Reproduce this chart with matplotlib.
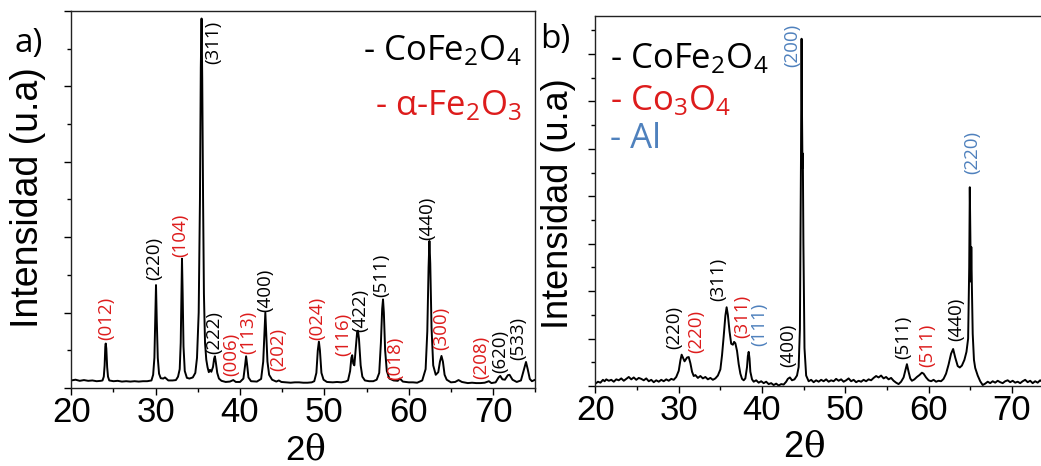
import matplotlib
matplotlib.use("Agg")
import matplotlib.pyplot as plt
from matplotlib.ticker import MultipleLocator, NullFormatter

plt.rcParams['font.family'] = ['Open Sans', 'DejaVu Sans']
plt.rcParams['mathtext.fontset'] = 'custom'
plt.rcParams['mathtext.rm'] = 'Open Sans'
plt.rcParams['mathtext.it'] = 'DejaVu Serif'

RED = '#dd1c1c'
BLUE = '#4f81bd'
PHASE_COLORS = ['black', RED, BLUE]

# ---- panel a : CoFe2O4 + alpha-Fe2O3 (2theta, intensity a.u.) ----
profile_a = [
    (20.0, 2.0), (20.5, 2.2), (21.0, 1.9), (21.5, 2.1), (22.0, 1.9), (22.5, 2.0),
    (23.0, 1.8), (23.5, 1.9), (23.7, 2.0), (23.85, 3.0), (23.95, 6.0), (24.03, 11.0),
    (24.08, 11.8), (24.15, 10.5), (24.25, 5.5), (24.35, 3.0), (24.5, 2.0), (25.0, 1.8),
    (25.5, 1.9), (26.0, 1.7), (26.5, 1.8), (27.0, 1.7), (27.5, 1.8), (28.0, 1.7),
    (28.5, 1.8), (29.0, 1.8), (29.5, 2.0), (29.7, 3.5), (29.85, 8.0), (29.95, 18.0),
    (30.04, 27.3), (30.13, 18.0), (30.25, 8.0), (30.4, 3.8), (30.6, 2.6), (30.9, 2.5),
    (31.1, 2.8), (31.5, 2.0), (32.0, 2.0), (32.4, 2.1), (32.65, 3.0), (32.85, 5.0),
    (32.97, 12.0), (33.05, 25.0), (33.12, 34.3), (33.2, 25.0), (33.3, 11.0), (33.45, 4.5),
    (33.7, 2.7), (34.0, 2.5), (34.4, 2.8), (34.7, 4.0), (34.9, 8.0), (35.1, 20.0),
    (35.25, 50.0), (35.35, 85.0), (35.44, 98.0), (35.52, 82.0), (35.62, 50.0), (35.72, 25.0),
    (35.85, 12.0), (36.0, 7.5), (36.15, 5.5), (36.3, 4.2), (36.45, 4.8), (36.6, 4.3),
    (36.8, 5.6), (36.93, 7.8), (37.02, 8.4), (37.12, 7.0), (37.3, 4.0), (37.5, 2.5),
    (37.8, 1.9), (38.3, 1.6), (38.8, 1.7), (39.2, 2.1), (39.5, 1.6), (40.0, 1.6),
    (40.4, 2.5), (40.6, 6.0), (40.72, 8.4), (40.85, 6.0), (41.0, 2.8), (41.3, 1.8),
    (42.0, 1.7), (42.5, 2.4), (42.75, 7.0), (42.9, 15.0), (43.0, 20.0), (43.1, 15.0),
    (43.25, 7.0), (43.45, 3.5), (43.8, 2.2), (44.3, 1.7), (44.6, 2.0), (44.9, 1.6),
    (45.5, 1.5), (46.0, 1.4), (46.5, 1.5), (47.0, 1.5), (47.5, 1.4), (48.0, 1.4),
    (48.5, 1.5), (48.8, 1.8), (49.05, 4.0), (49.22, 10.0), (49.35, 12.3), (49.47, 10.0),
    (49.65, 4.0), (49.9, 2.2), (50.3, 1.6), (51.0, 1.5), (51.5, 1.6), (52.0, 1.5),
    (52.5, 1.7), (52.8, 2.0), (53.05, 4.5), (53.2, 8.0), (53.3, 8.7), (53.42, 6.5),
    (53.55, 6.0), (53.7, 10.0), (53.88, 14.8), (53.98, 15.2), (54.1, 13.0), (54.3, 6.0),
    (54.5, 3.0), (54.8, 2.0), (55.3, 1.8), (55.8, 1.8), (56.2, 2.2), (56.5, 4.0),
    (56.7, 12.0), (56.85, 21.0), (56.95, 23.5), (57.05, 20.0), (57.2, 10.0), (57.4, 4.5),
    (57.7, 2.5), (58.2, 2.0), (58.7, 1.9), (58.95, 2.5), (59.3, 1.7), (60.0, 1.5),
    (60.5, 1.5), (61.0, 1.4), (61.6, 2.0), (62.0, 5.0), (62.2, 15.0), (62.35, 32.0),
    (62.45, 39.0), (62.55, 33.0), (62.7, 16.0), (62.9, 6.0), (63.2, 3.5), (63.5, 4.2),
    (63.7, 7.0), (63.88, 8.5), (64.05, 7.0), (64.25, 3.5), (64.5, 2.2), (65.0, 1.5),
    (65.5, 1.6), (65.9, 2.1), (66.3, 1.6), (67.0, 1.3), (67.5, 1.4), (68.0, 1.3),
    (68.5, 1.3), (69.0, 1.4), (69.5, 1.8), (69.8, 1.3), (70.3, 1.5), (70.65, 2.8),
    (70.85, 3.2), (71.1, 2.3), (71.4, 2.2), (71.75, 3.4), (71.95, 3.5), (72.3, 2.2),
    (72.8, 1.6), (73.3, 2.0), (73.6, 4.5), (73.9, 6.9), (74.1, 5.0), (74.35, 2.4),
    (74.6, 1.8), (75.0, 2.2),
]

hkl_a = ['(012)', '(220)', '(104)', '(311)', '(222)', '(006)', '(113)', '(400)', '(202)',
         '(024)', '(116)', '(422)', '(511)', '(018)', '(440)', '(300)', '(208)', '(620)',
         '(533)']
hkl_a_pos = [24.2, 29.8, 32.9, 36.8, 36.9, 39.0, 41.0, 43.0, 44.5,
             49.2, 52.2, 54.3, 56.7, 58.4, 62.2, 63.8, 68.6, 70.8,
             73.0]
hkl_a_base = [12.6, 28.6, 34.7, 86.0, 8.9, 3.1, 9.1, 20.2, 4.5,
              12.6, 8.4, 14.9, 24.1, 2.0, 39.2, 10.0, 2.5, 4.0,
              7.3]
hkl_a_phase = [1, 0, 1, 0, 0, 1, 1, 0, 1,
               1, 1, 0, 0, 1, 0, 1, 1, 0,
               0]

# ---- panel b : CoFe2O4 + Co3O4 + Al ----
profile_b = [
    (20.0, 0.5), (20.3, 0.9), (20.6, 0.7), (20.9, 1.3), (21.1, 1.0), (21.3, 1.4),
    (21.6, 1.1), (21.9, 1.3), (22.2, 0.9), (22.5, 1.4), (22.8, 1.2), (23.1, 1.6),
    (23.4, 1.1), (23.7, 1.5), (24.0, 1.9), (24.3, 1.4), (24.6, 1.8), (24.9, 1.3),
    (25.2, 1.7), (25.5, 1.5), (25.8, 1.2), (26.1, 1.6), (26.4, 1.0), (26.7, 1.3),
    (27.0, 0.8), (27.3, 1.2), (27.6, 0.9), (27.9, 1.3), (28.2, 1.0), (28.5, 1.4),
    (28.8, 1.1), (29.1, 1.5), (29.4, 1.3), (29.7, 1.9), (30.0, 3.2), (30.2, 5.4),
    (30.35, 6.6), (30.5, 6.0), (30.7, 5.2), (30.85, 5.6), (31.0, 6.0), (31.2, 6.1),
    (31.4, 4.8), (31.6, 3.0), (31.8, 2.1), (32.0, 2.3), (32.3, 1.7), (32.6, 2.1),
    (32.9, 1.6), (33.2, 1.9), (33.5, 1.4), (33.8, 1.7), (34.1, 1.3), (34.4, 1.6),
    (34.7, 2.2), (35.0, 3.5), (35.2, 6.5), (35.4, 10.5), (35.6, 14.8), (35.75, 16.6),
    (35.9, 15.0), (36.1, 11.5), (36.3, 8.9), (36.5, 8.7), (36.65, 9.3), (36.8, 9.0),
    (37.0, 7.4), (37.2, 4.6), (37.4, 2.6), (37.6, 1.5), (37.8, 1.2), (38.0, 1.6),
    (38.2, 4.0), (38.3, 6.3), (38.4, 7.2), (38.5, 5.8), (38.6, 3.0), (38.8, 1.4),
    (39.0, 0.9), (39.3, 1.2), (39.6, 0.7), (39.9, 1.0), (40.2, 0.6), (40.5, 0.9),
    (40.8, 0.4), (41.1, 0.6), (41.4, 0.2), (41.7, 0.5), (42.0, 0.1), (42.3, 0.4),
    (42.6, 0.3), (42.9, 0.9), (43.1, 1.5), (43.35, 1.8), (43.6, 1.2), (43.9, 1.4),
    (44.2, 2.2), (44.4, 4.0), (44.55, 12.0), (44.68, 48.0), (44.75, 73.2), (44.8, 58.0),
    (44.86, 46.0), (44.9, 49.0), (44.97, 30.0), (45.1, 8.0), (45.3, 2.2), (45.6, 1.0),
    (45.9, 1.3), (46.2, 0.8), (46.5, 1.2), (46.8, 0.9), (47.1, 1.3), (47.4, 1.0),
    (47.7, 1.4), (48.0, 0.9), (48.3, 1.2), (48.6, 1.0), (48.9, 1.5), (49.2, 1.1),
    (49.5, 1.4), (49.8, 0.9), (50.1, 1.2), (50.4, 1.6), (50.7, 1.0), (51.0, 1.3),
    (51.3, 0.8), (51.6, 1.1), (51.9, 0.9), (52.2, 1.3), (52.5, 1.0), (52.8, 1.4),
    (53.1, 1.2), (53.4, 1.7), (53.7, 2.1), (54.0, 1.8), (54.3, 2.2), (54.6, 1.6),
    (54.9, 1.9), (55.2, 1.4), (55.5, 1.7), (55.8, 1.1), (56.1, 0.7), (56.4, 0.4),
    (56.7, 0.9), (57.0, 1.8), (57.2, 3.2), (57.4, 4.6), (57.6, 3.0), (57.8, 1.6),
    (58.0, 1.1), (58.3, 1.4), (58.6, 1.9), (58.9, 2.3), (59.2, 2.8), (59.4, 2.6),
    (59.7, 1.8), (60.0, 1.2), (60.3, 1.0), (60.6, 1.3), (60.9, 0.9), (61.2, 1.1),
    (61.5, 1.0), (61.8, 1.5), (62.1, 2.6), (62.4, 4.5), (62.7, 6.8), (62.95, 7.8),
    (63.2, 6.0), (63.5, 4.2), (63.75, 3.9), (64.0, 4.3), (64.3, 5.5), (64.55, 7.2),
    (64.75, 10.0), (64.88, 25.0), (64.95, 41.9), (65.02, 31.0), (65.08, 22.0), (65.13, 29.3),
    (65.2, 21.0), (65.3, 11.0), (65.45, 5.5), (65.6, 3.8), (65.9, 2.2), (66.2, 1.0),
    (66.5, 0.2), (66.8, 0.5), (67.1, 0.9), (67.4, 0.6), (67.7, 1.0), (68.0, 0.7),
    (68.3, 1.1), (68.6, 0.8), (68.9, 0.6), (69.2, 1.0), (69.5, 1.2), (69.8, 0.8),
    (70.1, 1.1), (70.4, 0.7), (70.7, 0.9), (71.0, 0.6), (71.3, 1.0), (71.6, 1.3),
    (71.9, 0.8), (72.2, 1.1), (72.5, 0.6), (72.8, 1.0), (73.1, 0.7), (73.4, 1.2),
    (73.7, 0.8), (74.0, 1.0), (74.5, 0.8), (75.0, 0.9),
]

hkl_b = ['(220)', '(220)', '(311)', '(311)', '(111)', '(400)', '(200)', '(511)', '(511)',
         '(440)', '(220)']
hkl_b_pos = [29.5, 32.1, 34.8, 37.6, 39.7, 43.1, 43.6, 57.0, 59.8, 63.3, 65.3]
hkl_b_base = [7.7, 7.0, 18.0, 10.2, 8.5, 3.9, 67.3, 5.6, 3.9, 9.5, 44.7]
hkl_b_phase = [0, 1, 0, 1, 2, 0, 2, 0, 1, 0, 2]

legend_a = ['- CoFe$_2$O$_4$', '- α-Fe$_2$O$_3$']
legend_b = ['- CoFe$_2$O$_4$', '- Co$_3$O$_4$', '- Al']


def style_axis(ax, ymax, ymajor):
    ax.set_xlim(20, 75)
    ax.set_ylim(0, ymax)
    ax.xaxis.set_major_locator(MultipleLocator(10))
    ax.xaxis.set_minor_locator(MultipleLocator(5))
    ax.yaxis.set_major_locator(MultipleLocator(ymajor))
    ax.yaxis.set_minor_locator(MultipleLocator(ymajor / 2))
    ax.yaxis.set_major_formatter(NullFormatter())
    ax.tick_params(which='major', direction='out', length=5, width=1.0, pad=1,
                   labelsize=25)
    ax.tick_params(which='minor', direction='out', length=3, width=1.0)
    for lab in ax.get_xticklabels():
        lab.set_family('Liberation Sans')
    for sp in ax.spines.values():
        sp.set_linewidth(1.0)
        sp.set_color('#222222')


fig = plt.figure(figsize=(10.41, 4.66), dpi=100)

# panel a
ax_a = fig.add_axes([0.0685, 0.1674, 0.4457, 0.809])
xa, ya = zip(*profile_a)
ax_a.plot(xa, ya, color='black', lw=1.4)
style_axis(ax_a, 100, 20)
for t, x, y, p in zip(hkl_a, hkl_a_pos, hkl_a_base, hkl_a_phase):
    ax_a.text(x, y, t, rotation=90, ha='center', va='bottom', fontsize=13.5,
              color=PHASE_COLORS[p])
ax_a.text(0.971, 0.869, legend_a[0], transform=ax_a.transAxes, ha='right',
          va='baseline', fontsize=25, color='black')
ax_a.text(0.971, 0.723, legend_a[1], transform=ax_a.transAxes, ha='right',
          va='baseline', fontsize=25, color=RED)
ax_a.text(-0.093, 0.504, 'Intensidad (u.a)', transform=ax_a.transAxes, rotation=90,
          ha='center', va='center', fontsize=27, family='Liberation Sans')
ax_a.text(0.505, -0.19, '2$\\theta$', transform=ax_a.transAxes, ha='center',
          va='baseline', fontsize=25, family='Liberation Sans')

# panel b
ax_b = fig.add_axes([0.572, 0.1717, 0.44, 0.794])
xb, yb = zip(*profile_b)
ax_b.plot(xb, yb, color='black', lw=1.4)
style_axis(ax_b, 78, 10)
ax_b.spines['right'].set_visible(False)
for t, x, y, p in zip(hkl_b, hkl_b_pos, hkl_b_base, hkl_b_phase):
    ax_b.text(x, y, t, rotation=90, ha='center', va='bottom', fontsize=13.5,
              color=PHASE_COLORS[p])
for i, (t, yy) in enumerate(zip(legend_b, [0.858, 0.745, 0.644])):
    ax_b.text(0.032, yy, t, transform=ax_b.transAxes, ha='left', va='baseline',
              fontsize=25, color=PHASE_COLORS[i])
ax_b.text(-0.080, 0.493, 'Intensidad (u.a)', transform=ax_b.transAxes, rotation=90,
          ha='center', va='center', fontsize=26, family='Liberation Sans')
ax_b.text(0.455, -0.19, '2$\\theta$', transform=ax_b.transAxes, ha='center',
          va='baseline', fontsize=26, family='Liberation Sans')

fig.text(0.0144, 0.888, 'a)', ha='left', va='baseline', fontsize=24)
fig.text(0.5187, 0.897, 'b)', ha='left', va='baseline', fontsize=24)

fig.savefig('out.png', dpi=100)
